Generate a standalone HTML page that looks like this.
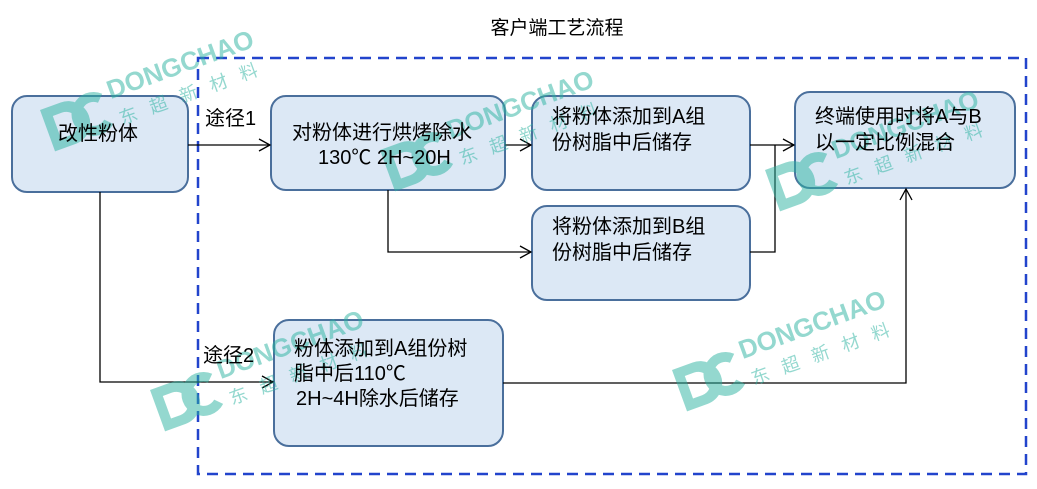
<!DOCTYPE html>
<html><head><meta charset="utf-8"><style>
html,body{margin:0;padding:0;background:#fff;}
svg{display:block;font-family:"Liberation Sans","Noto Sans CJK SC",sans-serif;}
</style></head><body>
<svg width="1037" height="489" viewBox="0 0 1037 489">
<defs>
<marker id="a" markerWidth="14" markerHeight="14" refX="12" refY="7" orient="auto" markerUnits="userSpaceOnUse">
<path d="M1,1 L12,7 L1,13" fill="none" stroke="#000" stroke-width="1.3"/></marker>
<g id="wm" opacity="0.5">
<path d="M0,0 h22 a22,22 0 0 1 0,44 h-22 z M10,10 v24 h10 a12,12 0 0 0 0,-24z" fill="#2bb3a0" fill-rule="evenodd"/>
<path d="M64,6 a22,22 0 1 0 0,32 l-7,-7 a12,12 0 1 1 0,-18z" fill="#2bb3a0"/>
<text x="70" y="14" font-size="26" font-weight="bold" fill="#2bb3a0">DONGCHAO</text>
<text x="72" y="42" font-size="18" fill="#2bb3a0" letter-spacing="14">东超新材料</text>
</g>
</defs>
<rect x="0" y="0" width="1037" height="489" fill="#fff"/>
<text x="557" y="34" font-size="19" text-anchor="middle" fill="#000">客户端工艺流程</text>
<rect x="198" y="58" width="828" height="416" fill="none" stroke="#2244cc" stroke-width="2.5" stroke-dasharray="11,7"/>
<g fill="#dce8f5" stroke="#4a6f9c" stroke-width="2">
<rect x="12" y="96" width="176" height="96" rx="15"/>
<rect x="271" y="96" width="234" height="94" rx="15"/>
<rect x="532" y="96" width="218" height="94" rx="15"/>
<rect x="532" y="206" width="218" height="94" rx="15"/>
<rect x="795" y="92" width="220" height="96" rx="15"/>
<rect x="274" y="320" width="229" height="126" rx="15"/>
</g>
<g fill="none" stroke="#000" stroke-width="1.3">
<path d="M188,145 H270" marker-end="url(#a)"/>
<path d="M505,145 H531" marker-end="url(#a)"/>
<path d="M388,190 V252 H531" marker-end="url(#a)"/>
<path d="M750,145 H794" marker-end="url(#a)"/>
<path d="M750,252 H775 V145"/>
<path d="M100,192 V382 H273" marker-end="url(#a)"/>
<path d="M503,383 H906 V189" marker-end="url(#a)"/>
</g>
<use href="#wm" transform="translate(40,110) rotate(-20)"/>
<use href="#wm" transform="translate(380,150) rotate(-20)"/>
<use href="#wm" transform="translate(765,170) rotate(-20)"/>
<use href="#wm" transform="translate(150,390) rotate(-20)"/>
<use href="#wm" transform="translate(672,370) rotate(-20)"/>
<g font-size="20" fill="#000">
<text x="58" y="140">改性粉体</text>
<text x="205" y="125">途径1</text>
<text x="203" y="362">途径2</text>
<text x="292" y="139">对粉体进行烘烤除水</text>
<text x="318" y="164">130℃ 2H~20H</text>
<text x="552" y="123">将粉体添加到A组</text>
<text x="552" y="149">份树脂中后储存</text>
<text x="552" y="233">将粉体添加到B组</text>
<text x="552" y="259">份树脂中后储存</text>
<text x="815" y="123">终端使用时将A与B</text>
<text x="815" y="149">以一定比例混合</text>
<text x="294" y="355">粉体添加到A组份树</text>
<text x="294" y="380">脂中后110℃</text>
<text x="296" y="405">2H~4H除水后储存</text>
</g>
</svg>
</body></html>
